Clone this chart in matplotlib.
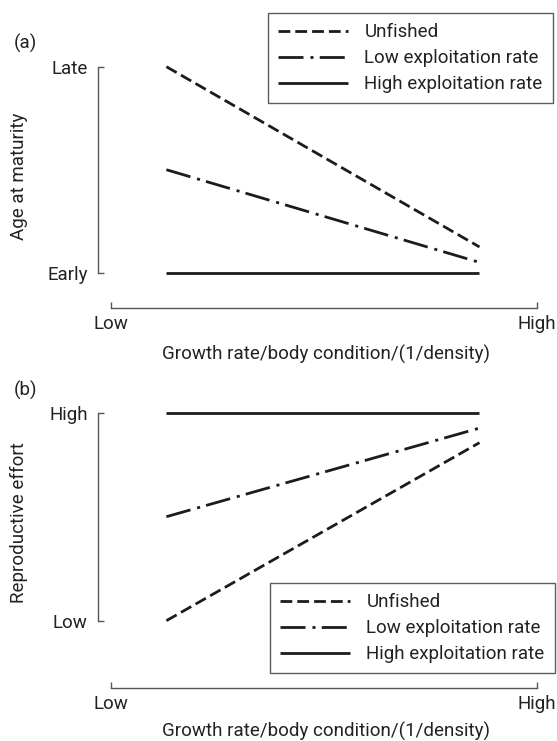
import matplotlib
matplotlib.use("Agg")
import matplotlib.pyplot as plt

plt.rcParams['font.family'] = ['Roboto', 'DejaVu Sans']
plt.rcParams['lines.scale_dashes'] = False

# data (0 = Low/Early, 1 = High/Late)
x_pos = [0.13, 0.865]
series = ['Unfished', 'Low exploitation rate', 'High exploitation rate']
age_unfished = [1.0, 0.125]
age_low = [0.5, 0.05]
age_high = [0.0, 0.0]
effort_unfished = [0.0, 0.856]
effort_low = [0.5, 0.926]
effort_high = [1.0, 1.0]
x_ticklabels = ['Low', 'High']
age_ticklabels = ['Early', 'Late']
effort_ticklabels = ['Low', 'High']

styles = [(0, (8.5, 3.6)), (0, (18, 5, 2.2, 4.5)), '-']
line_col = '#1c1c1c'
axis_col = '#555555'
text_col = '#222222'
fs = 13.5

fig = plt.figure(figsize=(5.57, 7.41), dpi=100)
W, H = 557, 741


def make_axes(top, bottom, xoff):
    ax = fig.add_axes([111 / W, 1 - bottom / H, 426 / W, (bottom - top) / H])
    ax.set_xlim(0, 1)
    ax.set_ylim(0, 1)
    for s in ['top', 'right']:
        ax.spines[s].set_visible(False)
    ax.spines['left'].set_position(('outward', 9.7))
    ax.spines['bottom'].set_position(('outward', xoff))
    ax.spines['left'].set_bounds(0, 1)
    ax.spines['bottom'].set_bounds(0, 1)
    for s in ['left', 'bottom']:
        ax.spines[s].set_color(axis_col)
        ax.spines[s].set_linewidth(1.0)
    ax.tick_params(direction='in', length=4, width=1.0, color=axis_col,
                   labelsize=fs, labelcolor=text_col)
    ax.tick_params(axis='y', pad=7)
    ax.tick_params(axis='x', pad=5)
    ax.set_xticks([0, 1], x_ticklabels)
    return ax


def draw(ax, ys, yticklabels, ylabel, xlabel_y, legend_anchor):
    handles = []
    for y, ls, name in zip(ys, styles, series):
        h, = ax.plot(x_pos, y, color=line_col, lw=2.0, linestyle=ls,
                     clip_on=False, label=name, solid_capstyle='butt',
                     dash_capstyle='butt')
        handles.append(h)
    ax.set_yticks([0, 1], yticklabels)
    ax.set_ylabel(ylabel, fontsize=fs, color=text_col, va='center')
    ax.yaxis.set_label_coords(-0.215, 0.47)
    ax.set_xlabel('Growth rate/body condition/(1/density)', fontsize=fs,
                  color=text_col, va='top')
    ax.xaxis.set_label_coords(0.505, xlabel_y)
    leg = ax.legend(handles=handles, loc='upper right',
                    bbox_to_anchor=legend_anchor, bbox_transform=fig.transFigure,
                    fontsize=fs, frameon=True, fancybox=False, edgecolor='#333333',
                    handlelength=3.7, handletextpad=0.9, labelspacing=0.42,
                    borderpad=0.55, borderaxespad=0)
    leg.get_frame().set_linewidth(1.0)
    for t in leg.get_texts():
        t.set_color(text_col)


ax1 = make_axes(66.7, 272.7, 25.4)
draw(ax1, [age_unfished, age_low, age_high], age_ticklabels, 'Age at maturity',
     -0.35, (553 / W, 1 - 13 / H))
fig.text(14 / W, 1 - 43 / H, '(a)', fontsize=fs, color=text_col, va='center')

ax2 = make_axes(412.7, 620.7, 48.5)
draw(ax2, [effort_unfished, effort_low, effort_high], effort_ticklabels,
     'Reproductive effort', -0.485, (555 / W, 1 - 583 / H))
fig.text(14 / W, 1 - 390 / H, '(b)', fontsize=fs, color=text_col, va='center')

fig.savefig('out.png', dpi=100)
